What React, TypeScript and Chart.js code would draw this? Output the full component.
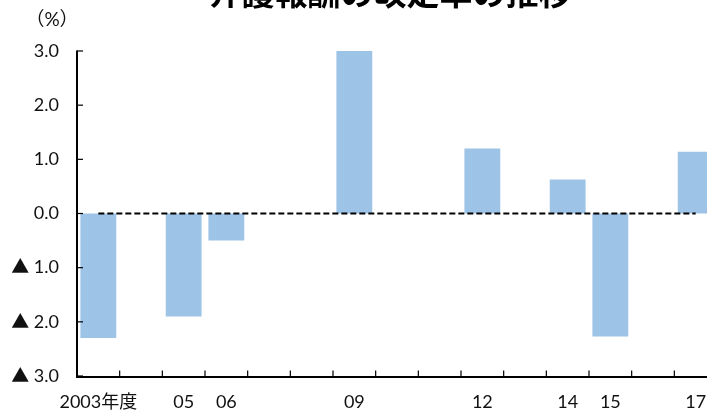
import React, { useEffect, useRef } from "react";
import { Chart, registerables } from "chart.js";

Chart.register(...registerables);

const categories = ["2003", "04", "05", "06", "07", "08", "09", "10", "11", "12", "13", "14", "15", "16", "17"];
const tickLabels = ["2003年度", "", "05", "06", "", "", "09", "", "", "12", "", "14", "15", "", "17"];
const revisionRates: (number | null)[] = [-2.3, null, -1.9, -0.5, null, null, 3.0, null, null, 1.2, null, 0.63, -2.27, null, 1.14];
const zeroLine = categories.map(() => 0);
const yMin = -3;
const yMax = 3;
const titleText = "介護報酬の改定率の推移";
const unitText = "（%）";

const FONT = "Lato, 'Noto Sans CJK JP', sans-serif";

const decorPlugin = {
  id: "decor",
  afterDatasetsDraw(chart: any) {
    const ctx = chart.ctx;
    const y = chart.scales.y;
    const area = chart.chartArea;
    ctx.save();
    ctx.strokeStyle = "#000";
    ctx.lineWidth = 1.2;
    const n = categories.length;
    const bottom = y.getPixelForValue(yMin);
    const top = y.getPixelForValue(yMax);
    for (let i = 1; i <= n; i++) {
      const px = area.left + (i * (area.right - area.left)) / n;
      ctx.beginPath();
      ctx.moveTo(px, bottom);
      ctx.lineTo(px, bottom - 5.5);
      ctx.stroke();
    }
    for (let v = yMin; v <= yMax; v++) {
      const py = y.getPixelForValue(v);
      ctx.beginPath();
      ctx.moveTo(area.left, py);
      ctx.lineTo(area.left + 6, py);
      ctx.stroke();
    }
    ctx.lineWidth = 2;
    ctx.beginPath();
    ctx.moveTo(area.left, top - 0.5);
    ctx.lineTo(area.left, bottom + 1);
    ctx.lineTo(area.right, bottom + 1);
    ctx.stroke();
    ctx.fillStyle = "#000";
    ctx.font = "bold 33px 'Noto Sans CJK JP', sans-serif";
    ctx.textAlign = "center";
    ctx.textBaseline = "alphabetic";
    ctx.fillText(titleText, 390, 5);
    ctx.font = "19px " + FONT;
    ctx.textAlign = "center";
    ctx.textBaseline = "middle";
    ctx.fillStyle = "#111";
    ctx.fillText(unitText, 52, 20);
    ctx.restore();
  },
};

export default function App() {
  const ref = useRef<HTMLCanvasElement | null>(null);
  useEffect(() => {
    if (!ref.current) return;
    const chart = new Chart(ref.current, {
      type: "bar",
      data: {
        labels: categories,
        datasets: [
          {
            type: "line",
            data: zeroLine,
            borderColor: "#000",
            borderWidth: 2,
            borderDash: [6, 3],
            pointRadius: 0,
            fill: false,
            order: 0,
          } as any,
          {
            type: "bar",
            data: revisionRates,
            backgroundColor: "#9DC3E6",
            barPercentage: 0.84,
            categoryPercentage: 1,
            order: 1,
          },
        ],
      },
      options: {
        animation: false,
        responsive: false,
        maintainAspectRatio: false,
        layout: { padding: { top: 51, right: 13, bottom: 0, left: 0 } },
        plugins: {
          legend: { display: false },
          tooltip: { enabled: false },
          title: { display: false },
        },
        scales: {
          x: {
            offset: true,
            grid: { display: false, drawTicks: false },
            border: { display: false },
            ticks: {
              autoSkip: false,
              maxRotation: 0,
              minRotation: 0,
              padding: 15,
              color: "#111",
              font: { family: FONT, size: 18 },
              callback: (_v: any, i: number) => tickLabels[i],
            },
            afterFit: (s: any) => {
              s.height = 34;
            },
          },
          y: {
            min: yMin,
            max: yMax,
            grid: { display: false, drawTicks: false },
            border: { display: false },
            ticks: {
              stepSize: 1,
              padding: 18,
              color: "#111",
              font: { family: FONT, size: 18 },
              callback: (v: any) => {
                const n = Number(v);
                return n < 0 ? "▲ " + Math.abs(n).toFixed(1) : n.toFixed(1);
              },
            },
            afterFit: (s: any) => {
              s.width = 77;
            },
          },
        },
      },
      plugins: [decorPlugin],
    });
    return () => chart.destroy();
  }, []);
  return (
    <div style={{ position: "absolute", left: 0, top: 0, width: 707, height: 410, overflow: "hidden", background: "#fff" }}>
      <canvas ref={ref} width={730} height={410} style={{ display: "block", width: 730, height: 410 }} />
    </div>
  );
}
